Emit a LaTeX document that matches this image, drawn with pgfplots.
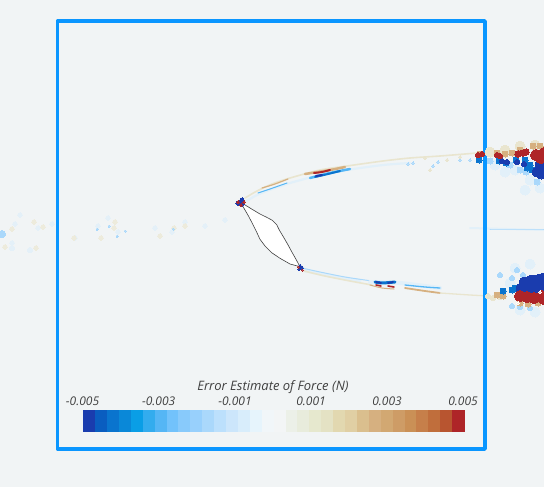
\documentclass[border=0pt]{standalone}
\usepackage{fontspec}
\setmainfont{Open Sans}
\usepackage{pgfplots}
\pgfplotsset{compat=1.18}
\definecolor{bg}{HTML}{F1F4F5}
\definecolor{frame}{HTML}{0A96FF}
\definecolor{dred}{HTML}{AE2528}
\definecolor{dblue}{HTML}{1A3CAE}
\definecolor{mblue}{HTML}{0A74CE}
\definecolor{sblue}{HTML}{55B6F5}
\definecolor{lblue}{HTML}{AAD8FB}
\definecolor{pblue}{HTML}{E2F0F9}
\definecolor{tan}{HTML}{D6B080}
\definecolor{ltan}{HTML}{E9E5CF}
\definecolor{wtan}{HTML}{EDEBDC}
\definecolor{wblue}{HTML}{E4F0F8}
\definecolor{c1}{HTML}{1A3CAE}\definecolor{c2}{HTML}{0A5DC0}\definecolor{c3}{HTML}{0A74CE}\definecolor{c4}{HTML}{0A88D8}
\definecolor{c5}{HTML}{0A9EE6}\definecolor{c6}{HTML}{33ACEE}\definecolor{c7}{HTML}{55B6F5}\definecolor{c8}{HTML}{72C2FB}
\definecolor{c9}{HTML}{88CAFB}\definecolor{c10}{HTML}{98D0FC}\definecolor{c11}{HTML}{AAD8FB}\definecolor{c12}{HTML}{BCE0FC}
\definecolor{c13}{HTML}{CCE6FB}\definecolor{c14}{HTML}{D8EDFB}\definecolor{c15}{HTML}{E6F4FC}\definecolor{c16}{HTML}{F1F6F9}
\definecolor{c17}{HTML}{F3F5F6}\definecolor{c18}{HTML}{ECF0E8}\definecolor{c19}{HTML}{E8ECDC}\definecolor{c20}{HTML}{E6E8CE}
\definecolor{c21}{HTML}{E4E2C4}\definecolor{c22}{HTML}{E2D8B0}\definecolor{c23}{HTML}{E0CFA4}\definecolor{c24}{HTML}{DABF8E}
\definecolor{c25}{HTML}{D6B080}\definecolor{c26}{HTML}{D2A872}\definecolor{c27}{HTML}{CE9C66}\definecolor{c28}{HTML}{CA9056}
\definecolor{c29}{HTML}{C67F4A}\definecolor{c30}{HTML}{C06E3C}\definecolor{c31}{HTML}{B85530}\definecolor{c32}{HTML}{AE2528}
\newcommand{\cell}[3]{\addplot[fill=#3,draw=#3,line width=0.1pt,forget plot] coordinates {(#1,410)(#2,410)(#2,431)(#1,431)} --cycle;}
\newcommand{\blobs}[3]{\addplot[only marks,color=#1,mark=*,mark size=#2,mark options={color=#1,line width=0pt},forget plot] coordinates {#3};}
\newcommand{\streak}[3]{\addplot[#1,line width=#2,line cap=round,line join=round,smooth,no marks,forget plot] coordinates {#3};}
\begin{document}
\begin{tikzpicture}
\useasboundingbox (0,0) rectangle (544pt,487pt);
\begin{axis}[
  at={(0,0)},anchor=south west,
  width=544pt,height=487pt,scale only axis,
  xmin=0,xmax=544,ymin=0,ymax=487,y dir=reverse,
  axis lines=none,clip=true,
]
% background
\addplot[fill=bg,draw=none,forget plot] coordinates {(0,0)(544,0)(544,487)(0,487)} --cycle;
% wake, pale dots
\blobs{wblue}{2.4pt}{(15,224)(12,243)(52,224)(38,228)(20,215)(75,238)(98,226)(108,218)(118,232)(155,228)(172,232)(185,222)(205,226)(225,220)}
\blobs{wtan}{2.4pt}{(12,229)(5,247)(36,248)(43,227)(34,222)(74,238)(101,238)(114,228)(115,222)(174,228)(160,236)(185,226)}
\blobs{lblue}{1pt}{(97,229)(109,226)(125,231)(117,236)(173,229)}
\blobs{lblue}{3.5pt}{(2,234)}
\blobs{wblue}{2.5pt}{(12,248)(30,250)}
% upper streak
\streak{ltan}{1.6pt}{(245,198)(257,191)(272,184)(290,178)(320,170)(347,166)(383,161)(410,158)(440,156)(477,153)}
\streak{pblue}{2.2pt}{(245,202)(257,195)(272,189)(290,183)(320,175)(347,170)(383,165)(410,163)}
\streak{sblue}{1pt}{(258,193)(270,189)(287,183)}
\streak{tan}{1.2pt}{(262,188)(275,184)(288,179)}
\streak{tan}{2.5pt}{(305,174)(330,170)(345,167)}
\streak{sblue}{2.5pt}{(310,178)(330,173)(350,169)}
\streak{mblue}{2pt}{(315,177)(328,174)(340,171)}
\streak{dred}{2pt}{(314,173)(322,172)(330,170)}
\streak{dblue}{2pt}{(316,176)(322,175)}
\blobs{lblue}{1.2pt}{(413,163)(438,162)(433,166)(460,160)(470,160)(408,164)}
\blobs{ltan}{1.5pt}{(430,170)(447,160)(460,157)(425,158)}
% lower streak
\streak{pblue}{3pt}{(302,270)(330,276)(360,281)}
\streak{lblue}{1pt}{(302,268)(320,272)(345,277)(372,281)}
\streak{ltan}{1.6pt}{(304,271)(325,276)(350,281)(372,285)}
\streak{pblue}{4pt}{(370,282)(400,283)(440,288)}
\streak{sblue}{1.3pt}{(405,285)(425,287)(440,288)}
\streak{tan}{1.8pt}{(405,288)(425,291)(440,293)}
\streak{ltan}{1.3pt}{(440,293)(470,295)(490,296)}
\streak{mblue}{3pt}{(375,282)(382,283)(395,282)}
\streak{dblue}{1.8pt}{(376,282)(381,283)}
\streak{dblue}{1.8pt}{(388,283)(393,282)}
\streak{dred}{1.6pt}{(376,285)(381,286)}
\streak{dred}{1.6pt}{(388,286)(394,287)}
\streak{tan}{1pt}{(370,285)(382,288)(394,289)}
% right of the frame, upper
\blobs{pblue}{5pt}{(530,180)(515,170)(540,188)(495,165)(505,172)(525,190)}
\blobs{ltan}{5pt}{(505,150)(520,146)(535,145)(490,152)}
\blobs{tan}{3pt}{(480,154)(497,153)(505,154)(512,153)(520,150)(533,146)(540,146)}
\blobs{lblue}{3pt}{(490,161)(510,165)(520,170)(526,172)(537,182)}
\blobs{mblue}{3pt}{(479,160)(499,161)(506,163)(516,160)(525,160)(527,168)(530,165)(532,170)}
\blobs{dblue}{2.5pt}{(502,161)(507,162)(517,162)(524,164)}
\blobs{dblue}{5pt}{(540,164)(537,172)(541,174)(544,169)}
\blobs{dred}{2.5pt}{(478,155)(482,154)(497,155)(500,156)}
\blobs{dred}{3.2pt}{(518,154)(523,153)(526,152)}
\blobs{dred}{5.5pt}{(536,155)(541,158)(544,153)}
% right of the frame, faint line
\streak{pblue}{2pt}{(470,228)(544,230)}
\streak{lblue}{1pt}{(490,229)(544,229)}
% right of the frame, lower
\blobs{pblue}{5pt}{(515,268)(530,264)(510,283)(520,310)(535,312)}
\blobs{lblue}{2.5pt}{(512,278)(517,270)(523,275)(500,275)(520,307)(512,306)(530,308)}
\blobs{ltan}{2.5pt}{(488,296)(493,298)(500,297)}
\blobs{tan}{3pt}{(497,295)(503,296)(520,303)(528,304)(538,303)}
\blobs{mblue}{3pt}{(503,291)(512,290)(515,288)}
\blobs{dblue}{6pt}{(525,283)(532,281)(540,280)(544,279)(522,289)(531,288)(538,288)(544,287)}
\blobs{dred}{5.5pt}{(520,296)(527,297)(534,298)(542,296)(544,299)}
\blobs{white}{1.2pt}{(540,292)(518,303)}
% airfoil
\addplot[fill=white!97!bg,draw=black!75,line width=0.6pt,no marks,forget plot] coordinates {(240,201.7)(246.7,206)(253.3,210)(260,214)(266.7,217.3)(272.3,220.3)(276.7,224.7)(279.3,230)(283.3,236.7)(287.7,244.3)(291.7,251.7)(296,259.3)(300,266.7)(290,264)(280,258.3)(271.7,252.7)(265,246)(260,239.3)(256,230.7)(252.3,223.3)(248.3,215.7)(244,208.3)} --cycle;
% stagnation points
\blobs{dblue}{2.2pt}{(242,200)(242,204)(238,203)}
\blobs{dred}{1.3pt}{(238,202)(244,202)(241,205)}
\blobs{dblue}{1.5pt}{(300,266)(302,268)(299,269)}
\blobs{dred}{1pt}{(298,267)(302,270)}
% frame
\addplot[frame,line width=3.6pt,line join=round,no marks,forget plot] coordinates {(57.5,21)(485,21)(485,449)(57.5,449)} --cycle;
% colour bar
\cell{83.3}{95.2}{c1}\cell{95.2}{107.1}{c2}\cell{107.1}{119.0}{c3}\cell{119.0}{130.9}{c4}
\cell{130.9}{142.8}{c5}\cell{142.8}{154.7}{c6}\cell{154.7}{166.6}{c7}\cell{166.6}{178.5}{c8}
\cell{178.5}{190.4}{c9}\cell{190.4}{202.3}{c10}\cell{202.3}{214.2}{c11}\cell{214.2}{226.1}{c12}
\cell{226.1}{238.0}{c13}\cell{238.0}{249.9}{c14}\cell{249.9}{261.8}{c15}\cell{261.8}{273.7}{c16}
\cell{273.7}{285.6}{c17}\cell{285.6}{297.5}{c18}\cell{297.5}{309.4}{c19}\cell{309.4}{321.3}{c20}
\cell{321.3}{333.2}{c21}\cell{333.2}{345.1}{c22}\cell{345.1}{357.0}{c23}\cell{357.0}{368.9}{c24}
\cell{368.9}{380.8}{c25}\cell{380.8}{392.7}{c26}\cell{392.7}{404.6}{c27}\cell{404.6}{416.5}{c28}
\cell{416.5}{428.4}{c29}\cell{428.4}{440.3}{c30}\cell{440.3}{452.2}{c31}\cell{452.2}{464.1}{c32}
\node[font=\itshape\fontsize{13pt}{15pt}\selectfont,text=black!75] at (axis cs:273,387) {Error Estimate of Force (N)};
\node[font=\itshape\fontsize{12pt}{14pt}\selectfont,text=black!75] at (axis cs:82.5,401) {-0.005};
\node[font=\itshape\fontsize{12pt}{14pt}\selectfont,text=black!75] at (axis cs:158.7,401) {-0.003};
\node[font=\itshape\fontsize{12pt}{14pt}\selectfont,text=black!75] at (axis cs:235,401) {-0.001};
\node[font=\itshape\fontsize{12pt}{14pt}\selectfont,text=black!75] at (axis cs:311,401) {0.001};
\node[font=\itshape\fontsize{12pt}{14pt}\selectfont,text=black!75] at (axis cs:387,401) {0.003};
\node[font=\itshape\fontsize{12pt}{14pt}\selectfont,text=black!75] at (axis cs:463,401) {0.005};
\end{axis}
\end{tikzpicture}
\end{document}
